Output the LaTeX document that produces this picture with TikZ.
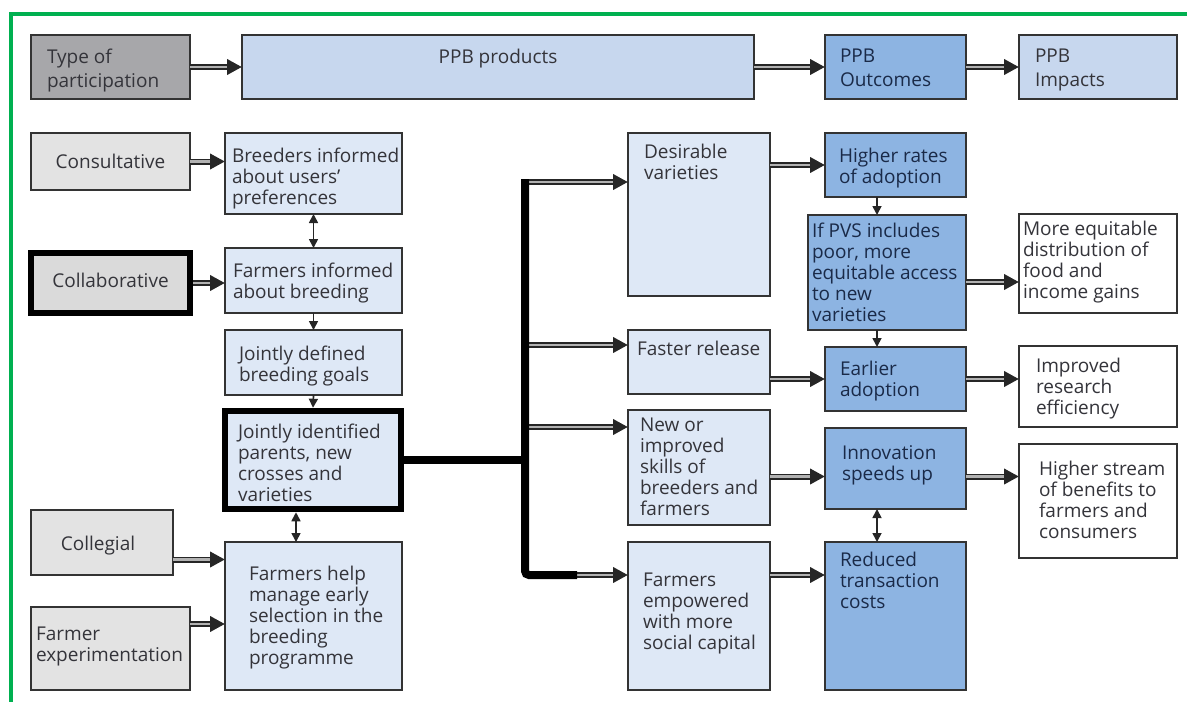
\documentclass[tikz,border=0pt]{standalone}
\usepackage{fontspec}
\setmainfont{Open Sans}
\usetikzlibrary{arrows.meta}
\definecolor{typegray}{RGB}{167,167,170}
\definecolor{topblue}{RGB}{199,215,238}
\definecolor{outblue}{RGB}{141,180,226}
\definecolor{lgray}{RGB}{227,227,227}
\definecolor{lgraytwo}{RGB}{218,218,218}
\definecolor{prodblue}{RGB}{222,232,246}
\definecolor{textgray}{RGB}{52,52,58}
\definecolor{textnavy}{RGB}{26,42,72}
\definecolor{framegreen}{RGB}{0,176,80}
\newcommand\Bx[6]{\node[#2, anchor=north west, minimum width={(#5-#3)*1pt}, minimum height={(#6-#4)*1pt}] (#1) at (#3,#4) {};}
\newcommand\Tx[6]{\node[#2, anchor=base west] (#1) at ([shift={(#4,#5)}]#3.north west) {\begin{tabular}[t]{@{}l@{}}#6\end{tabular}};}
\begin{document}
\begin{tikzpicture}[x=1pt,y=-1pt,
  box/.style={draw=black!80, line width=2pt, inner sep=0pt, outer sep=0pt},
  thickbox/.style={draw=black, line width=6.5pt, inner sep=0pt, outer sep=0pt},
  txt/.style={inner sep=0pt, outer sep=0pt, text=textgray, font=\fontsize{19}{21.2}\selectfont},
  txtb/.style={txt, text=textnavy},
  dbl/.style={draw=black!85, line width=6pt, -{Triangle[length=15pt,width=15pt]},
    postaction={draw=black!30, line width=2.6pt, -, shorten >=15pt}},
  thin/.style={draw=black!85, line width=1.7pt, -{Triangle[length=9pt,width=9pt]}},
  thinboth/.style={draw=black!85, line width=1.7pt, {Triangle[length=9pt,width=9pt]}-{Triangle[length=9pt,width=9pt]}},
  bus/.style={draw=black, line width=8pt},
  frame/.style={draw=framegreen, line width=4pt}]
\useasboundingbox (0,0) rectangle (1187,702);
\draw[frame] (1187,14) -- (11,14) -- (11,702);
% boxes
\Bx{tp}{box,fill=typegray}{31}{35}{190}{99}
\Bx{pp}{box,fill=topblue}{242}{35}{754}{99}
\Bx{po}{box,fill=outblue}{825}{35}{966}{99}
\Bx{pi}{box,fill=topblue}{1019}{35}{1177}{99}
\Bx{cons}{box,fill=lgray}{31}{133}{190}{190}
\Bx{coll}{thickbox,fill=lgraytwo}{31}{253}{190}{313}
\Bx{colg}{box,fill=lgray}{31}{510}{173}{575}
\Bx{fexp}{box,fill=lgray}{31}{607}{190}{690}
\Bx{br}{box,fill=prodblue}{225}{133}{402}{214}
\Bx{fi}{box,fill=prodblue}{225}{248}{402}{313}
\Bx{jd}{box,fill=prodblue}{225}{330}{402}{395}
\Bx{ji}{thickbox,fill=prodblue}{225}{411}{401}{509}
\Bx{fh}{box,fill=prodblue}{225}{542}{402}{690}
\Bx{dv}{box,fill=prodblue}{628}{133}{770}{296}
\Bx{fr}{box,fill=prodblue}{628}{330}{770}{394}
\Bx{ni}{box,fill=prodblue}{628}{410}{770}{525}
\Bx{fe}{box,fill=prodblue}{628}{542}{770}{690}
\Bx{hr}{box,fill=outblue}{825}{133}{966}{197}
\Bx{pvs}{box,fill=outblue}{808}{215}{966}{330}
\Bx{ea}{box,fill=outblue}{825}{347}{966}{411}
\Bx{inn}{box,fill=outblue}{825}{428}{966}{509}
\Bx{rd}{box,fill=outblue}{825}{542}{966}{690}
\Bx{me}{box,fill=white}{1019}{214}{1177}{313}
\Bx{ir}{box,fill=white}{1019}{346}{1177}{427}
\Bx{hs}{box,fill=white}{1019}{444}{1177}{558}
% texts
\Tx{tpt}{txt}{tp}{16}{28}{Type of\\[3pt]participation}
\node[txt, anchor=base] (ppt) at ([shift={(0,28)}]pp.north) {PPB products};
\Tx{pot}{txtb}{po}{15}{27}{PPB\\[3.5pt]Outcomes}
\Tx{pit}{txt}{pi}{16}{27}{PPB\\[3.5pt]Impacts}
\node[txt, anchor=base] (const) at ([shift={(0,35)}]cons.north) {Consultative};
\node[txt, anchor=base] (collt) at ([shift={(0,34)}]coll.north) {Collaborative};
\node[txt, anchor=base] (colgt) at ([shift={(-4,40)}]colg.north) {Collegial};
\Tx{fext}{txt}{fexp}{5}{33}{Farmer\\experimentation}
\Tx{brt}{txt}{br}{7}{29}{Breeders informed\\about users'\\preferences}
\Tx{fit}{txt}{fi}{8}{29}{Farmers informed\\about breeding}
\Tx{jdt}{txt}{jd}{14}{30}{Jointly defined\\breeding goals}
\Tx{jit}{txt}{ji}{13}{27}{Jointly identified\\parents, new\\crosses and\\varieties}
\Tx{fht}{txt}{fh}{24}{38}{Farmers help\\manage early\\selection in the\\breeding\\programme}
\Tx{dvt}{txt}{dv}{16}{25}{Desirable\\varieties}
\Tx{frt}{txt}{fr}{9}{25}{Faster release}
\Tx{nit}{txt}{ni}{12}{21}{New or\\improved\\skills of\\breeders and\\farmers}
\Tx{fet}{txt}{fe}{15}{44}{Farmers\\empowered\\with more\\social capital}
\Tx{hrt}{txtb}{hr}{14}{29}{Higher rates\\of adoption}
\Tx{pvst}{txtb}{pvs}{4}{22}{If PVS includes\\poor, more\\equitable access\\to new\\varieties}
\Tx{eat}{txtb}{ea}{15}{28}{Earlier\\adoption}
\Tx{innt}{txtb}{inn}{17}{31}{Innovation\\speeds up}
\Tx{rdt}{txtb}{rd}{15}{24}{Reduced\\transaction\\costs}
\Tx{met}{txt}{me}{4}{21}{More equitable\\distribution of\\food and\\income gains}
\Tx{irt}{txt}{ir}{17}{26}{Improved\\research\\efficiency}
\Tx{hst}{txt}{hs}{20}{31}{Higher stream\\of benefits to\\farmers and\\consumers}
% coordinates
\coordinate (bh) at (525,460);
\coordinate (bt) at (525,182);
\coordinate (bb) at (525,575);
\coordinate (bm) at (577,575);
\coordinate (b2) at (525,345);
\coordinate (b3) at (525,427);
\coordinate (a1) at ([yshift=-8pt]inn.west);
\coordinate (a2) at (rd.west |- bm);
\coordinate (a3) at ([yshift=-9.5pt]pvs.east);
\coordinate (c1) at ([xshift=-17pt]ji.south);
\coordinate (c2) at ([xshift=-18.5pt]hr.south);
% double arrows
\draw[dbl] (tp.east) -- (pp.west);
\draw[dbl] (pp.east) -- (po.west);
\draw[dbl] (po.east) -- (pi.west);
\draw[dbl] (cons.east) -- (cons.east -| br.west);
\draw[dbl] ([xshift=3.25pt]coll.east) -- (coll.east -| fi.west);
\draw[dbl] ([yshift=-17pt]colg.east) -- ([yshift=-17pt]colg.east -| fh.west);
\draw[dbl] ([yshift=24.5pt]fexp.east) -- ([yshift=24.5pt]fexp.east -| fh.west);
\draw[dbl] (bt) -- (bt -| dv.west);
\draw[dbl] (b2) -- (b2 -| fr.west);
\draw[dbl] (b3) -- (b3 -| ni.west);
\draw[dbl] (bm) -- (bm -| fe.west);
\draw[dbl] (hr.west -| dv.east) -- (hr.west);
\draw[dbl] (ea.west -| fr.east) -- (ea.west);
\draw[dbl] (a1 -| ni.east) -- (a1);
\draw[dbl] (a2 -| fe.east) -- (a2);
\draw[dbl] (a3) -- (a3 -| me.west);
\draw[dbl] (ea.east) -- (ea.east -| ir.west);
\draw[dbl] (a1 -| inn.east) -- (a1 -| hs.west);
% bus
\draw[bus] (ji.east) -- (bh);
\draw[bus, rounded corners=4pt] ([yshift=3pt]bt) -- (bb) -- (bm);
% thin arrows
\draw[thinboth] (br.south) -- (fi.north);
\draw[thin] (fi.south) -- (jd.north);
\draw[thin] (jd.south) -- ([yshift=3.25pt]ji.north);
\draw[thinboth] ([yshift=-3.25pt]c1) -- (c1 |- fh.north);
\draw[thin] (c2) -- (c2 |- pvs.north);
\draw[thin] (c2 |- pvs.south) -- (c2 |- ea.north);
\draw[thinboth] (c2 |- inn.south) -- (c2 |- rd.north);
\end{tikzpicture}
\end{document}
